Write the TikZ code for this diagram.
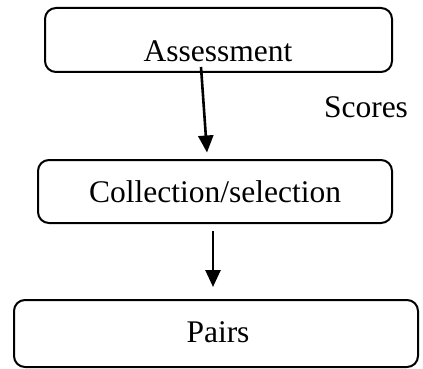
\documentclass[tikz,border=0pt]{standalone}
\usepackage{fontspec}
\setmainfont{Liberation Serif}
\usetikzlibrary{arrows.meta,calc}
\begin{document}
\begin{tikzpicture}[x=1pt,y=-1pt,
  box/.style={draw,line width=2pt,rounded corners=11pt,inner sep=0pt},
  lbl/.style={anchor=base,inner sep=0pt,font=\fontsize{31.5}{36}\selectfont},
  arr/.style={line width=2.6pt,-{Triangle[length=17pt,width=15pt]}}]
\useasboundingbox (0,0) rectangle (423,369);
\node[box,minimum width=347pt,minimum height=64pt] (b1) at (218.5,40) {};
\node[box,minimum width=354pt,minimum height=63pt] (b2) at (215,191.5) {};
\node[box,minimum width=404pt,minimum height=67pt] (b3) at (216,333.5) {};
\node[lbl] (t1) at (218,62) {Assessment};
\node[lbl] (t2) at (215,202) {Collection/selection};
\node[lbl] (t3) at (218,342) {Pairs};
\node[lbl] (sc) at (366,117) {Scores};
\coordinate (a1s) at ($(b1.south)+(-17.5,-6)$);
\coordinate (a1e) at ($(b2.north)+(-8,-6.5)$);
\draw[arr] (a1s) -- (a1e);
\coordinate (a2s) at ($(b2.south)+(-2,7)$);
\coordinate (a2e) at ($(b3.north)+(-3,-12)$);
\draw[arr] (a2s) -- (a2e);
\end{tikzpicture}
\end{document}
